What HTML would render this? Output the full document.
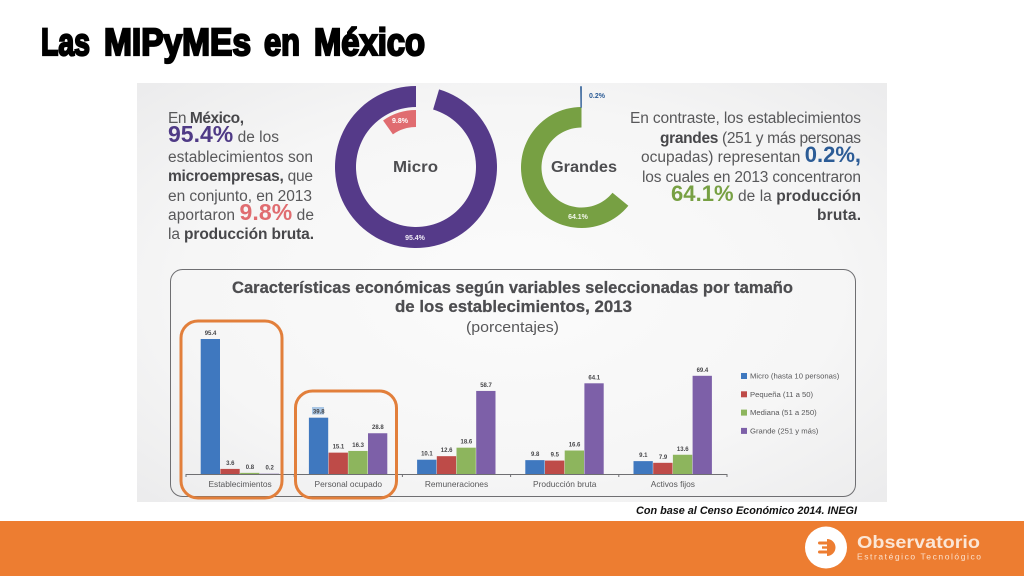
<!DOCTYPE html>
<html lang="es">
<head>
<meta charset="utf-8">
<title>Las MIPyMEs en México</title>
<style>
html,body{margin:0;padding:0;background:#fff;width:1024px;height:576px;overflow:hidden}
svg{display:block}
text{font-family:"Liberation Sans",sans-serif}
.body{font-size:15.5px;fill:#58585a}
.b{font-weight:700;fill:#47474a}
.ttl{font-size:17px;font-weight:700;fill:#4d4d50;stroke:#4d4d50;stroke-width:0.25}
.tw{font-size:38px;font-weight:700;fill:#000;stroke:#000;stroke-width:2.2}
</style>
</head>
<body>
<svg id="slide" width="1024" height="576" viewBox="0 0 1024 576" xmlns="http://www.w3.org/2000/svg">
<defs>
<radialGradient id="panelGrad" cx="50%" cy="50%" r="72%">
<stop offset="0" stop-color="#fbfbfb"/>
<stop offset="0.6" stop-color="#f6f6f6"/>
<stop offset="1" stop-color="#ebebec"/>
</radialGradient>
</defs>
<rect width="1024" height="576" fill="#fff"/>
<g>
<text class="tw" x="41" y="55" textLength="49" lengthAdjust="spacingAndGlyphs">Las</text>
<text class="tw" x="104" y="55" textLength="147" lengthAdjust="spacingAndGlyphs">MIPyMEs</text>
<text class="tw" x="264" y="55" textLength="36" lengthAdjust="spacingAndGlyphs">en</text>
<text class="tw" x="314" y="55" textLength="111" lengthAdjust="spacingAndGlyphs">México</text>
</g>

<rect x="137" y="83" width="750" height="419" fill="url(#panelGrad)"/>

<g>
<text class="body" x="168" y="123" textLength="76">En <tspan class="b">México,</tspan></text>
<text class="body" x="168" y="142" textLength="111"><tspan font-size="23" font-weight="700" fill="#4f3a86">95.4%</tspan> de los</text>
<text class="body" x="168" y="162" textLength="145">establecimientos son</text>
<text class="body" x="168" y="181" textLength="145"><tspan class="b">microempresas,</tspan> que</text>
<text class="body" x="168" y="201" textLength="144">en conjunto, en 2013</text>
<text class="body" x="168" y="220" textLength="146">aportaron <tspan font-size="23" font-weight="700" fill="#e06c70">9.8%</tspan> de</text>
<text class="body" x="168" y="239" textLength="146">la <tspan class="b">producción bruta.</tspan></text>
</g>

<g id="donuts"></g>
<text x="393" y="172" font-size="15.500" font-weight="700" fill="#4d4d50" textLength="45" lengthAdjust="spacingAndGlyphs">Micro</text>
<text x="551" y="172" font-size="15.500" font-weight="700" fill="#4d4d50" textLength="66" lengthAdjust="spacingAndGlyphs">Grandes</text>
<text x="400" y="123" text-anchor="middle" font-size="7" font-weight="700" fill="#fff">9.8%</text>
<text x="415" y="240" text-anchor="middle" font-size="7" font-weight="700" fill="#f0ecf6">95.4%</text>
<text x="597" y="98" text-anchor="middle" font-size="7" font-weight="700" fill="#2c5c96">0.2%</text>
<text x="578" y="219" text-anchor="middle" font-size="7" font-weight="700" fill="#f3f7ec">64.1%</text>

<g text-anchor="end">
<text class="body" x="861" y="123" text-anchor="end" textLength="231">En contraste, los establecimientos</text>
<text class="body" x="861" y="143" text-anchor="end" textLength="201"><tspan class="b">grandes</tspan> (251 y más personas</text>
<text class="body" x="861" y="162" text-anchor="end" textLength="220">ocupadas) representan <tspan font-size="22" font-weight="700" fill="#2c5c96">0.2%,</tspan></text>
<text class="body" x="861" y="182" text-anchor="end" textLength="219">los cuales en 2013 concentraron</text>
<text class="body" x="861" y="201" text-anchor="end" textLength="190"><tspan font-size="22" font-weight="700" fill="#77a043">64.1%</tspan> de la <tspan class="b">producción</tspan></text>
<text class="body b" x="861" y="220" text-anchor="end" textLength="44">bruta.</text>
</g>

<rect x="170.500" y="269.500" width="685" height="227" rx="12" fill="none" stroke="#6f6f72" stroke-width="1"/>
<text class="ttl" x="232" y="293" textLength="561" lengthAdjust="spacingAndGlyphs">Características económicas según variables seleccionadas por tamaño</text>
<text class="ttl" x="395" y="312" textLength="237" lengthAdjust="spacingAndGlyphs">de los establecimientos, 2013</text>
<text x="466" y="332" font-size="15" fill="#58585a" textLength="93" lengthAdjust="spacingAndGlyphs">(porcentajes)</text>

<rect x="312" y="407" width="12" height="7.500" fill="#a9c6e4"/>
<g id="chart"></g>

<rect x="181" y="321" width="101" height="177" rx="17" fill="none" stroke="#e27f3b" stroke-width="3"/>
<rect x="295.500" y="391" width="101" height="107" rx="17" fill="none" stroke="#e27f3b" stroke-width="3"/>

<text x="636" y="514" font-size="11" font-weight="700" font-style="italic" fill="#111" textLength="221" lengthAdjust="spacingAndGlyphs">Con base al Censo Económico 2014. INEGI</text>

<rect x="0" y="521" width="1024" height="55" fill="#ed7d31"/>
<g>
<circle cx="826" cy="547.500" r="21" fill="#fff"/>
<path d="M827 539 a8.500 8.500 0 0 1 0 17 z" fill="#ed7d31"/>
<rect x="818" y="541.500" width="10" height="3" rx="1.500" fill="#ed7d31"/>
<rect x="818" y="550.500" width="10" height="3" rx="1.500" fill="#ed7d31"/>
<rect x="822" y="546.300" width="6" height="2.400" fill="#ed7d31"/>
</g>
<text x="857" y="548" font-size="17.500" font-weight="700" fill="#fbe6d6" textLength="123" lengthAdjust="spacingAndGlyphs">Observatorio</text>
<text x="857" y="559.500" font-size="8.500" fill="#fbe0cc" textLength="124">Estratégico Tecnológico</text>
</svg>

<script>
var NS = 'http://www.w3.org/2000/svg';

// Bar chart data
var categories = ['Establecimientos', 'Personal ocupado', 'Remuneraciones', 'Producción  bruta', 'Activos fijos'];
var seriesNames = ['Micro (hasta 10 personas)', 'Pequeña (11 a 50)', 'Mediana (51 a 250)', 'Grande (251 y más)'];
var micro = [95.4, 39.8, 10.1, 9.8, 9.1];
var pequena = [3.6, 15.1, 12.6, 9.5, 7.9];
var mediana = [0.8, 16.3, 18.6, 16.6, 13.6];
var grande = [0.2, 28.8, 58.7, 64.1, 69.4];
var seriesColors = ['#3f78bf', '#be4b48', '#8db55d', '#7d60a8'];

// Donut data (percent of the full ring)
var microEstablishments = 95.4;
var microProduction = 9.8;
var grandesEstablishments = 0.2;
var grandesProduction = 64.1;

function make(tag, attrs, parent) {
  var el = document.createElementNS(NS, tag);
  for (var k in attrs) { el.setAttribute(k, attrs[k]); }
  parent.appendChild(el);
  return el;
}

// Axis functions
var baselineY = 474;
var axisLeft = 186;
var groupWidth = 108.2;
var barWidth = 19.7;
function yScale(v) { return baselineY - v * 1.415; }
function groupCenter(i) { return axisLeft + groupWidth * (i + 0.5); }
function barX(i, s) { return groupCenter(i) - 2 * barWidth + s * barWidth; }

var chart = document.getElementById('chart');
var allSeries = [micro, pequena, mediana, grande];

allSeries.forEach(function (values, s) {
  values.forEach(function (v, i) {
    var bar = make('rect', {x: barX(i, s), y: yScale(v), width: barWidth - 0.4, height: baselineY - yScale(v), fill: seriesColors[s]}, chart);
    
    
    var lab = make('text', {x: barX(i, s) + barWidth / 2, y: yScale(v) - 4, 'text-anchor': 'middle', 'font-size': '6', 'font-weight': '700', fill: '#47474a'}, chart);
    
    
    lab.textContent = v.toFixed(1);
  });
});

var axis = make('line', {x1: axisLeft, x2: axisLeft + groupWidth * categories.length, y1: baselineY + 0.5, y2: baselineY + 0.5, stroke: '#6f6f72', 'stroke-width': '1'}, chart);



for (var t = 0; t <= categories.length; t++) {
  var tick = make('line', {x1: axisLeft + groupWidth * t, x2: axisLeft + groupWidth * t, y1: baselineY, y2: baselineY + 3, stroke: '#6f6f72', 'stroke-width': '1'}, chart);
  
  
}

categories.forEach(function (c, i) {
  var lab = make('text', {x: groupCenter(i), y: 487, 'text-anchor': 'middle', 'font-size': '8.400', fill: '#58585a'}, chart);
  
  
  lab.textContent = c;
});

seriesNames.forEach(function (n, s) {
  var sw = make('rect', {x: 741, y: 373 + s * 18.3, width: 6, height: 6, fill: seriesColors[s]}, chart);
  
  
  var tx = make('text', {x: 750, y: 378.500 + s * 18.3, 'font-size': '7.700', fill: '#58585a'}, chart);
  
  
  tx.textContent = n;
});

// Ring segment running counter-clockwise from 12 o'clock
function ringPath(cx, cy, rOuter, rInner, pct) {
  var a = pct / 100 * 2 * Math.PI;
  var large = pct > 50 ? 1 : 0;
  var ox = cx - rOuter * Math.sin(a), oy = cy - rOuter * Math.cos(a);
  var ix = cx - rInner * Math.sin(a), iy = cy - rInner * Math.cos(a);
  return 'M' + cx + ' ' + (cy - rOuter) +
    'A' + rOuter + ' ' + rOuter + ' 0 ' + large + ' 0 ' + ox + ' ' + oy +
    'L' + ix + ' ' + iy +
    'A' + rInner + ' ' + rInner + ' 0 ' + large + ' 1 ' + cx + ' ' + (cy - rInner) + 'Z';
}

var donuts = document.getElementById('donuts');

var ringMicro = make('path', {d: ringPath(416, 167, 81, 60, microEstablishments), fill: '#553a89'}, donuts);



var ringMicroProd = make('path', {d: ringPath(416, 167, 57, 40, microProduction), fill: '#e06c70'}, donuts);



var ringGrandes = make('path', {d: ringPath(581.5, 167.5, 60.5, 40, grandesProduction), fill: '#77a043'}, donuts);



var ringGrandesEst = make('path', {d: ringPath(581.5, 167.5, 81, 60, grandesEstablishments), fill: '#2c5c96', stroke: '#2c5c96', 'stroke-width': '0.6'}, donuts);


</script>
</body>
</html>
